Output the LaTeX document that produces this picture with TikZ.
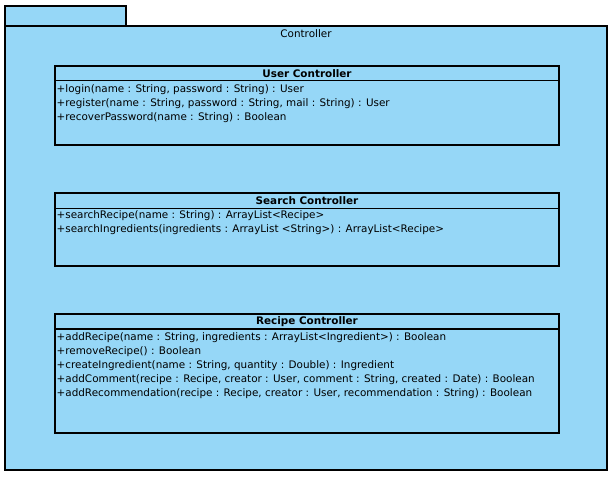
\documentclass[tikz,border=0pt]{standalone}
\usepackage{fontspec}
\setmainfont{DejaVu Sans}
\definecolor{pkgblue}{RGB}{150,215,247}
\begin{document}
\begin{tikzpicture}[x=1pt,y=-1pt,
  box/.style={draw=black,line width=1.2pt,fill=pkgblue},
  cls/.style={draw=black,line width=1.1pt,fill=pkgblue},
  op/.style={anchor=west,inner sep=0pt,font=\fontsize{10.4}{12}\selectfont},
  ttl/.style={inner sep=0pt,font=\fontsize{10.4}{12}\selectfont\bfseries},
  pkgname/.style={inner sep=0pt,font=\fontsize{10.4}{12}\selectfont}]
\useasboundingbox (0,0) rectangle (610,483);
% package
\draw[box] (5,6) rectangle (126,26);
\draw[box] (5,26) rectangle (607,470);
\node[pkgname] (pname) at (306,33.5) {Controller};
% User Controller
\draw[cls] (55,66) rectangle (559,145);
\draw[line width=1.1pt] (55,80.5) -- (559,80.5);
\node[ttl] (uc) at (307,73.5) {User Controller};
\node[op] (u1) at (56.5,89.5) {+login(name : String, password : String) : User};
\node[op] (u2) at (56.5,103.5) {+register(name : String, password : String, mail : String) : User};
\node[op] (u3) at (56.5,117.5) {+recoverPassword(name : String) : Boolean};
% Search Controller
\draw[cls] (55,193) rectangle (559,266);
\draw[line width=1.1pt] (55,208.5) -- (559,208.5);
\node[ttl] (sc) at (307,200.5) {Search Controller};
\node[op] (s1) at (56.5,215.5) {+searchRecipe(name : String) : ArrayList<Recipe>};
\node[op] (s2) at (56.5,229.5) {+searchIngredients(ingredients : ArrayList <String>) : ArrayList<Recipe>};
% Recipe Controller
\draw[cls] (55,314) rectangle (559,433);
\draw[line width=1.1pt] (55,329) -- (559,329);
\node[ttl] (rc) at (307,321.5) {Recipe Controller};
\node[op] (r1) at (56.5,337.5) {+addRecipe(name : String, ingredients : ArrayList<Ingredient>) : Boolean};
\node[op] (r2) at (56.5,351.5) {+removeRecipe() : Boolean};
\node[op] (r3) at (56.5,365.5) {+createIngredient(name : String, quantity : Double) : Ingredient};
\node[op] (r4) at (56.5,379.5) {+addComment(recipe : Recipe, creator : User, comment : String, created : Date) : Boolean};
\node[op] (r5) at (56.5,393.5) {+addRecommendation(recipe : Recipe, creator : User, recommendation : String) : Boolean};
\end{tikzpicture}
\end{document}
